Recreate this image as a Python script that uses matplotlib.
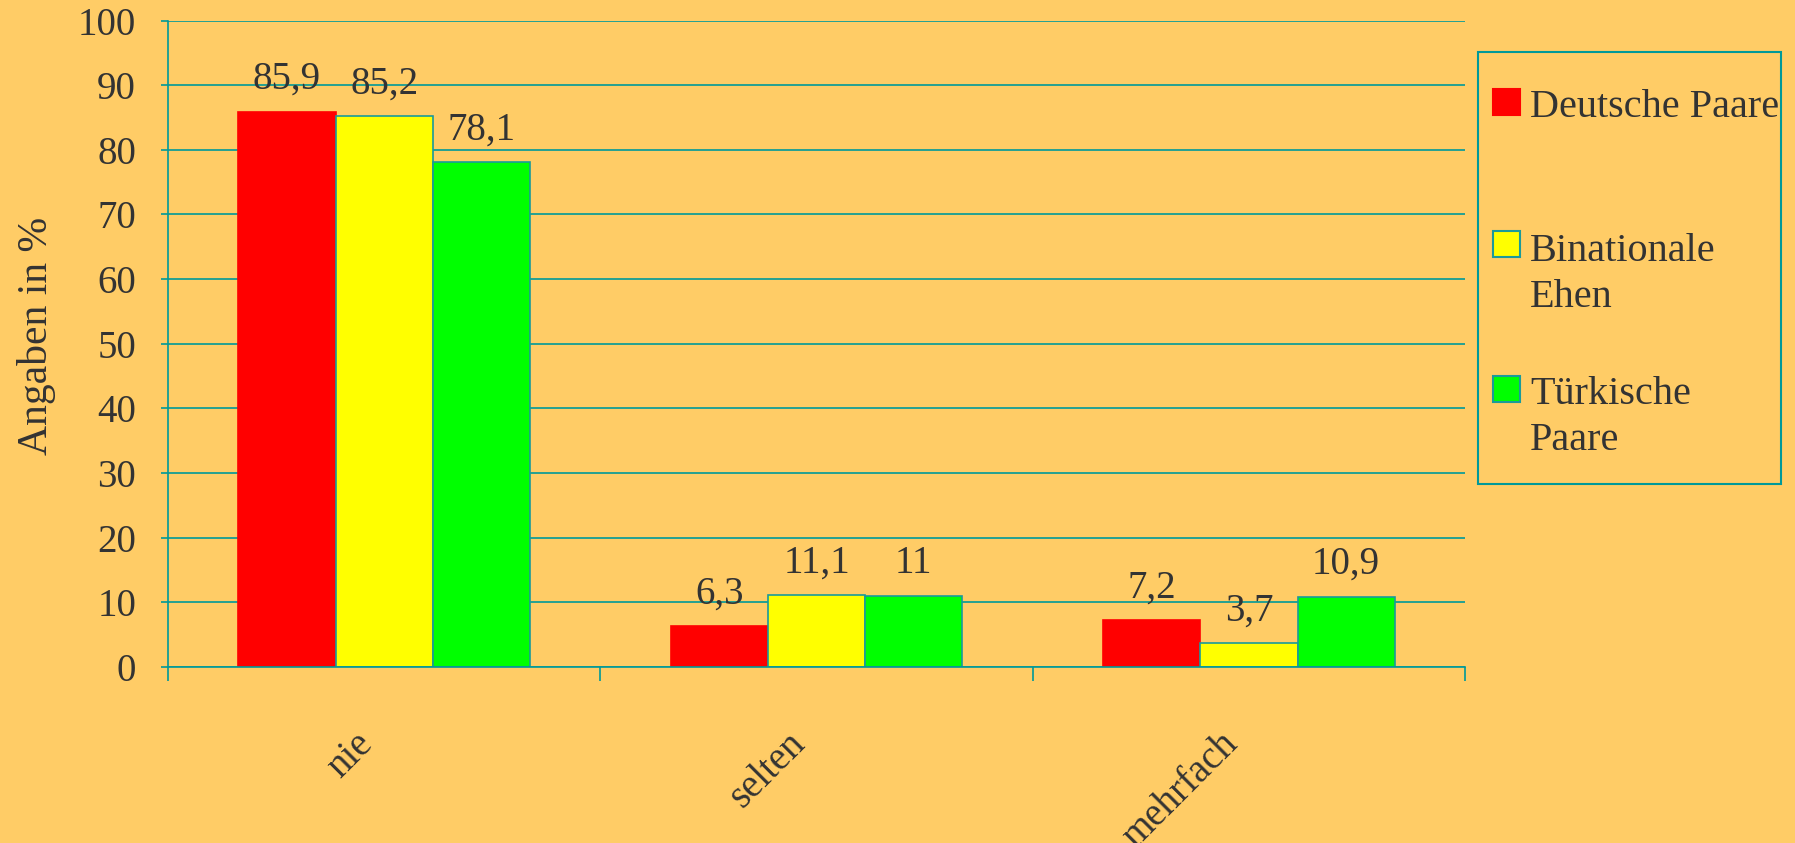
import matplotlib.pyplot as plt
from matplotlib.patches import Rectangle
from matplotlib.transforms import blended_transform_factory

# data
categories = ["nie", "selten", "mehrfach"]
groups = ["Deutsche Paare", "Binationale\nEhen", "Türkische\nPaare"]
deutsche = [85.9, 6.3, 7.2]
binational = [85.2, 11.1, 3.7]
tuerkisch = [78.1, 11.0, 10.9]
yticks = [0, 10, 20, 30, 40, 50, 60, 70, 80, 90, 100]

series = [deutsche, binational, tuerkisch]
colors = ["#FF0000", "#FFFF00", "#00FF00"]
edges = ["#FF0000", "#1A9A9A", "#1A9A9A"]
bg = "#FFCC66"
teal = "#009999"
txt = "#333333"

plt.rcParams["font.family"] = ["Liberation Serif", "DejaVu Serif"]
plt.rcParams["text.color"] = txt

fig = plt.figure(figsize=(17.95, 8.43), dpi=100, facecolor=bg)
ax = fig.add_axes([0.0936, 0.2088, 0.7226, 0.7668])
ax.set_facecolor(bg)

width = 0.225
for j, vals in enumerate(series):
    xs = [i + (j - 1) * width for i in range(len(categories))]
    ax.bar(xs, vals, width=width, color=colors[j], edgecolor=edges[j],
           linewidth=1.2, zorder=3)
    for x, v in zip(xs, vals):
        ax.annotate(f"{v:g}".replace(".", ","), (x, v), xytext=(0, 16.5),
                    textcoords="offset points", ha="center", va="baseline",
                    fontsize=28, color=txt, zorder=4)

ax.set_xlim(-0.5, 2.5)
ax.set_ylim(0, 100)
ax.set_yticks(yticks)
ax.set_xticks([-0.5, 0.5, 1.5, 2.5])
ax.set_xticklabels([])
ax.tick_params(axis="x", direction="out", length=10, width=1.2, color=teal)
ax.tick_params(axis="y", direction="out", length=5, width=1.2, color=teal,
               labelsize=28, labelcolor=txt, pad=18)
ax.yaxis.grid(True, color=teal, linewidth=1.2, zorder=0)
ax.set_axisbelow(True)
for s in ["top", "right"]:
    ax.spines[s].set_visible(False)
for s in ["left", "bottom"]:
    ax.spines[s].set_color(teal)
    ax.spines[s].set_linewidth(1.2)
    ax.spines[s].set_zorder(5)

ax.set_ylabel("Angaben in %", fontsize=30, color=txt)
ax.yaxis.set_label_coords(-0.086, 0.512)

trans = blended_transform_factory(ax.transData, ax.transAxes)
for i, c in enumerate(categories):
    ax.text(i - 0.07, -0.09, c, transform=trans, rotation=45, ha="right",
            va="top", rotation_mode="anchor", fontsize=28, color=txt)

# legend box drawn in figure pixels
W, H = 1795, 843
fig.add_artist(Rectangle((1478 / W, 1 - 484 / H), 303 / W, 432 / H,
                         transform=fig.transFigure, fill=False,
                         edgecolor=teal, linewidth=1.5))
sq_tops = [89, 231, 376]
base = [117, 307, 450]  # baseline of the last line of each label
for j in range(3):
    fig.add_artist(Rectangle((1493 / W, 1 - (sq_tops[j] + 26) / H), 27 / W, 26 / H,
                             transform=fig.transFigure, facecolor=colors[j],
                             edgecolor=edges[j], linewidth=1.5))
    fig.text(1530 / W, 1 - base[j] / H, groups[j], ha="left", va="baseline",
             fontsize=29, color=txt, linespacing=1.33)

fig.savefig("out.png", dpi=100, facecolor=bg)
